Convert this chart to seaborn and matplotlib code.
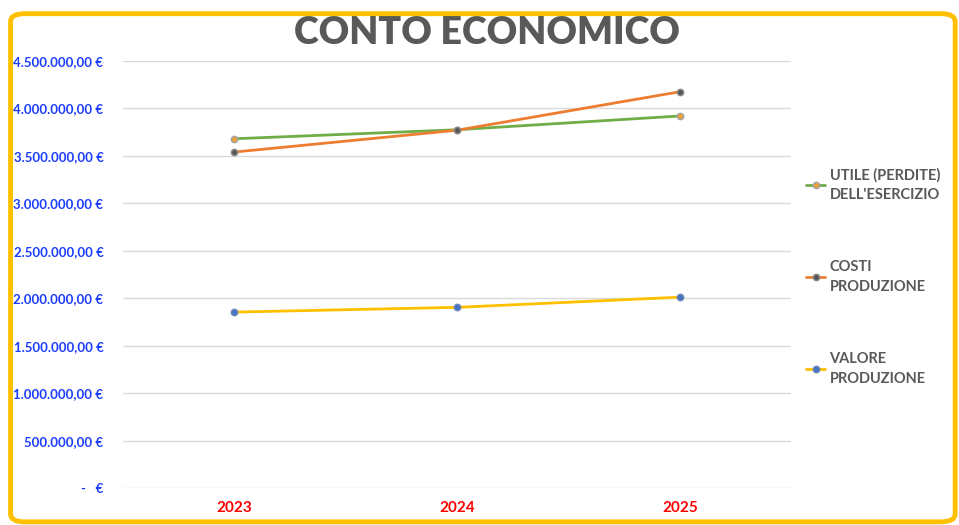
import numpy as np
import pandas as pd
import matplotlib.pyplot as plt
from matplotlib.patches import FancyBboxPatch
from matplotlib.ticker import FuncFormatter
import seaborn as sns

# data ===============================================================
years = ["2023", "2024", "2025"]
utile = [3680000, 3775000, 3920000]
costi = [3540000, 3770000, 4175000]
valore = [1855000, 1905000, 2012000]

series_names = ["UTILE (PERDITE)\nDELL'ESERCIZIO", "COSTI\nPRODUZIONE", "VALORE\nPRODUZIONE"]
series_vals = [utile, costi, valore]
line_colors = ["#70AD47", "#ED7D31", "#FFC000"]
marker_faces = ["#F0A030", "#555555", "#4472C4"]
marker_edges = ["#A5A5A5", "#8A8A8A", "#6A86B8"]

sns.set_style("white")
plt.rcParams["font.family"] = ["Lato", "DejaVu Sans"]
plt.rcParams["font.weight"] = "bold"


def euro(v, pos):
    if v == 0:
        return "-   €"
    s = f"{v:,.2f}"
    s = s.replace(",", "X").replace(".", ",").replace("X", ".")
    return s + " €"


fig = plt.figure(figsize=(9.59, 5.25), dpi=100)
ax = fig.add_axes([0.128, 0.070, 0.697, 0.814])

#### lines
for name, vals, lc, mf, me in zip(series_names, series_vals, line_colors, marker_faces, marker_edges):
    df = pd.DataFrame({"anno": years, "valore": vals})
    sns.lineplot(data=df, x="anno", y="valore", ax=ax, color=lc, linewidth=2,
                 marker="o", markersize=4.5, markerfacecolor=mf, markeredgecolor=me,
                 markeredgewidth=1.1, label=name)

#### settings
ax.set_xlim(-0.5, 2.5)
ax.set_ylim(0, 4500000)
ax.set_yticks(np.arange(0, 4500001, 500000))
ax.yaxis.set_major_formatter(FuncFormatter(euro))
ax.grid(axis="y", color="#D9D9D9", linewidth=1)
ax.grid(axis="x", visible=False)
for sp in ax.spines.values():
    sp.set_visible(False)
ax.tick_params(axis="y", length=0, pad=14, labelsize=9.5, labelcolor="#1A3CFF")
ax.tick_params(axis="x", length=0, pad=9, labelsize=11, labelcolor="#FF0000")
ax.set_xlabel("")
ax.set_ylabel("")

#### legend
leg = ax.legend(loc="upper left", bbox_to_anchor=(0.827, 0.705), bbox_transform=fig.transFigure,
                frameon=False, handlelength=1.3, handletextpad=0.3, labelspacing=4.0,
                prop={"weight": "bold", "size": 10.5})
for t in leg.get_texts():
    t.set_color("#595959")
    t.set_linespacing(1.5)

#### title
fig.text(0.508, 0.937, "CONTO ECONOMICO", ha="center", va="center", fontsize=27,
         fontweight="heavy", color="#595959")

#### border
border = FancyBboxPatch((0.011, 0.006), 0.985, 0.968, boxstyle="round,pad=0,rounding_size=0.015",
                        transform=fig.transFigure, facecolor="none", edgecolor="#FFC000",
                        linewidth=3.5, zorder=10)
fig.patches.append(border)

fig.savefig("out.png", dpi=100)
